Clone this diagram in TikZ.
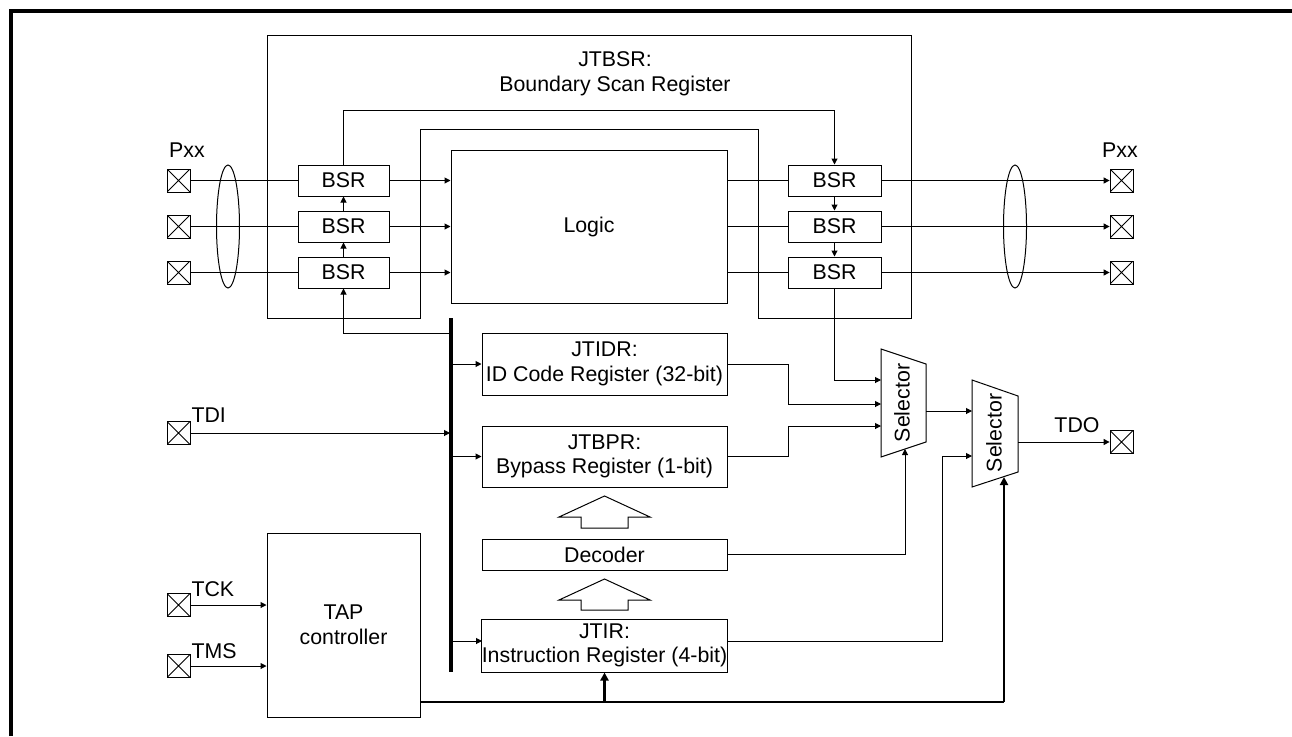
\documentclass[tikz,border=0pt]{standalone}
\usepackage{fontspec}
\setmainfont{Liberation Sans}
\usetikzlibrary{arrows.meta,calc}
\begin{document}
\begin{tikzpicture}[x=0.75pt,y=-0.75pt, line width=0.75pt,
  font=\fontsize{16pt}{18.4pt}\selectfont,
  bx/.style 2 args={draw, inner sep=0pt, minimum width=#1*0.75pt, minimum height=#2*0.75pt, align=center},
  pad/.style={draw, inner sep=0pt, minimum size=17.25pt, line width=0.6pt,
    path picture={\draw[line width=0.6pt] (path picture bounding box.south west) -- (path picture bounding box.north east)
      (path picture bounding box.north west) -- (path picture bounding box.south east);}},
  arr/.style={-{Triangle[length=4.5pt,width=4.5pt]}},
  tarr/.style={line width=1.8pt, -{Triangle[length=6pt,width=6pt]}},
  thick line/.style={line width=1.8pt},
  lbl/.style={inner sep=0pt}]
\useasboundingbox (0,0) rectangle (1292,736);
% frame
\draw[line width=2.4pt] (11,736) -- (11,11) -- (1292,11);
% JTBSR outline
\draw (267,35) -- (911,35) -- (911,318) -- (758,318) -- (758,129) -- (420,129) -- (420,318) -- (267,318) -- cycle;
\node[lbl, align=center] (jtbsr) at (615,74) {JTBSR:\\Boundary Scan Register};
% logic
\node[bx={276}{153}] (logic) at (589,226.5) {Logic};
% BSR left
\node[bx={91}{31}] (bl1) at (343.5,180.5) {BSR};
\node[bx={91}{31}] (bl2) at (343.5,226.5) {BSR};
\node[bx={91}{31}] (bl3) at (343.5,272.5) {BSR};
% BSR right
\node[bx={93}{31}] (br1) at (834.5,180.5) {BSR};
\node[bx={93}{31}] (br2) at (834.5,226.5) {BSR};
\node[bx={93}{31}] (br3) at (834.5,272.5) {BSR};
% pads
\node[pad] (pl1) at (178.5,180.5) {};
\node[pad] (pl2) at (178.5,226.5) {};
\node[pad] (pl3) at (178.5,272.5) {};
\node[pad] (pr1) at (1121.5,180.5) {};
\node[pad] (pr2) at (1121.5,226.5) {};
\node[pad] (pr3) at (1121.5,272.5) {};
\node[lbl] (pxxl) at (187,150) {Pxx};
\node[lbl] (pxxr) at (1120,150) {Pxx};
% ellipses
\draw (228,226.5) ellipse [x radius=11.5, y radius=61.5];
\draw (1015,226.5) ellipse [x radius=11.5, y radius=61.5];
% pad connections
\foreach \i in {1,2,3}{
  \draw (pl\i.east) -- (bl\i.west);
  \draw[arr] (bl\i.east) -- (bl\i.east -| logic.west);
  \draw (br\i.west -| logic.east) -- (br\i.west);
  \draw[arr] (br\i.east) -- (pr\i.west);
}
% BSR chain
\draw[arr] (bl3.north) -- (bl2.south);
\draw[arr] (bl2.north) -- (bl1.south);
\draw[arr] (bl1.north) -- (343.5,110) -- (834.5,110) -- (br1.north);
\draw[arr] (br1.south) -- (br2.north);
\draw[arr] (br2.south) -- (br3.north);
% registers
\node[bx={245}{62}] (jtidr) at (604.5,364) {JTIDR:\\ID Code Register (32-bit)};
\node[bx={245}{61}] (jtbpr) at (604.5,456.5) {JTBPR:\\Bypass Register (1-bit)};
\node[bx={245}{31}] (dec) at (604.5,554.5) {Decoder};
\node[bx={245}{53}] (jtir) at (604.5,645.5) {JTIR:\\Instruction Register (4-bit)};
\node[bx={153}{184}] (tap) at (343.5,625) {TAP\\controller};
% block arrows
\draw (604.5,496) -- (650,517) -- (628,517) -- (628,528) -- (581,528) -- (581,517) -- (559,517) -- cycle;
\draw (604.5,579) -- (650,600) -- (628,600) -- (628,610) -- (581,610) -- (581,600) -- (559,600) -- cycle;
% bus
\draw[line width=2.4pt] (451,318) coordinate (bustop) -- (451,672) coordinate (busbot);
\coordinate (busx) at (450,0);
% TDI/TCK/TMS pads
\node[pad] (tdi) at (178.5,433) {};
\node[pad] (tck) at (178.5,605) {};
\node[pad] (tms) at (178.5,666) {};
\node[lbl, anchor=west] (tdil) at (191,415) {TDI};
\node[lbl, anchor=west] (tckl) at (191,589) {TCK};
\node[lbl, anchor=west] (tmsl) at (191,651) {TMS};
\draw[arr] (tdi.east) -- (tdi.east -| busx);
\draw[arr] (tck.east) -- (tck.east -| tap.west);
\draw[arr] (tms.east) -- (tms.east -| tap.west);
% bus to registers
\draw[arr] (bustop |- jtidr.west) -- (jtidr.west);
\draw[arr] (bustop |- jtbpr.west) -- (jtbpr.west);
\coordinate (jtirin) at (482,641);
\draw[arr] (bustop |- jtirin) -- (jtirin);
\draw[arr] (bustop |- 0,333) -- (343.5,333) -- (bl3.south);
% selectors
\draw (881,349) -- (926,364) -- (926,442) -- (881,457) -- cycle;
\node[lbl, rotate=90] (sel1) at (902,403) {Selector};
\draw (972,380) -- (1018,396) -- (1018,472) -- (972,487) -- cycle;
\node[lbl, rotate=90] (sel2) at (994,433) {Selector};
% selector inputs
\draw[arr] (br3.south) -- (834.5,380) -- (881,380);
\draw[arr] (jtidr.east) -- (788,364) -- (788,404) -- (881,404);
\draw[arr] (jtbpr.east) -- (788,456.5) -- (788,426) -- (881,426);
\draw[arr] (dec.east) -- (905,554.5) -- (905,449);
\draw[arr] (926,411) -- (972,411);
\draw[arr] (jtir.east |- jtirin) -- (942,641) -- (942,456) -- (972,456);
% TAP outputs
\draw[thick line] (tap.east |- 0,702) -- (1004,702) coordinate (tapr);
\draw[tarr] (tapr) -- (1004,477);
\draw[tarr] (604.5,702) -- (jtir.south);
% TDO
\node[pad] (tdo) at (1121.5,442) {};
\node[lbl] (tdol) at (1077,425) {TDO};
\draw[arr] (1018,442) -- (tdo.west);
\end{tikzpicture}
\end{document}
